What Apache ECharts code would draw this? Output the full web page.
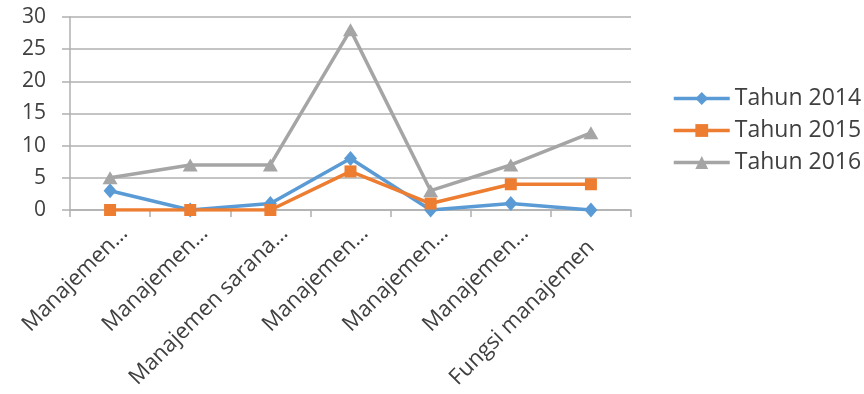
<!DOCTYPE html>
<html>
<head>
<meta charset="utf-8">
<script src="https://cdn.jsdelivr.net/npm/echarts@6/dist/echarts.min.js"></script>
<style>
  html, body { margin: 0; padding: 0; background: #ffffff; }
  #chart { width: 864px; height: 394px; }
</style>
</head>
<body>
<div id="chart"></div>
<script>
// Category labels along the x axis
const categories = [
  'Manajemen…',
  'Manajemen…',
  'Manajemen sarana…',
  'Manajemen…',
  'Manajemen…',
  'Manajemen…',
  'Fungsi manajemen'
];

// Series values per year
const seriesNames = ['Tahun 2014', 'Tahun 2015', 'Tahun 2016'];
const tahun2014 = [3, 0, 1, 8, 0, 1, 0];
const tahun2015 = [0, 0, 0, 6, 1, 4, 4];
const tahun2016 = [5, 7, 7, 28, 3, 7, 12];

// Y axis scale
const yMin = 0;
const yMax = 30;
const yStep = 5;

const FONT = 'Open Sans';
const TEXT = '#404040';
const GRID = '#b0b0b0';

const chart = echarts.init(document.getElementById('chart'), null, { renderer: 'canvas' });

// Shortened names (ending in an ellipsis) run a little past the tick centre
const categoryItems = categories.map(function (c) {
  return c.endsWith('…')
    ? { value: c, textStyle: { padding: [0, -20, 0, 0] } }
    : { value: c };
});

function lineSeries(name, data, color, symbol, size) {
  return {
    name: name,
    type: 'line',
    data: data,
    symbol: symbol,
    symbolSize: size,
    showAllSymbol: true,
    lineStyle: { color: color, width: 3.5 },
    itemStyle: { color: color },
    emphasis: { disabled: true },
    animation: false
  };
}

chart.setOption({
  animation: false,
  textStyle: { fontFamily: FONT },
  grid: { left: 70, right: 233, top: 17, bottom: 184, containLabel: false },
  legend: {
    orient: 'vertical',
    left: 672,
    top: 87,
    padding: 0,
    itemWidth: 56,
    itemHeight: 16,
    itemGap: 9,
    data: seriesNames,
    lineStyle: { width: 3.5 },
    textStyle: { fontFamily: FONT, fontSize: 23, color: TEXT }
  },
  xAxis: {
    type: 'category',
    data: categoryItems,
    boundaryGap: true,
    axisLine: { show: true, lineStyle: { color: GRID, width: 1.5 } },
    axisTick: { show: true, length: 7, alignWithLabel: false, lineStyle: { color: GRID, width: 1.5 } },
    axisLabel: {
      interval: 0,
      rotate: 45,
      margin: 34,
      fontFamily: FONT,
      fontSize: 22,
      color: TEXT
    },
    splitLine: { show: false }
  },
  yAxis: {
    type: 'value',
    min: yMin,
    max: yMax,
    interval: yStep,
    axisLine: { show: true, lineStyle: { color: GRID, width: 1.5 } },
    axisTick: { show: true, inside: false, length: 8, lineStyle: { color: GRID, width: 1.5 } },
    axisLabel: { margin: 24, fontFamily: FONT, fontSize: 21, color: TEXT },
    splitLine: { show: true, lineStyle: { color: GRID, width: 1.5 } }
  },
  series: [
    lineSeries(seriesNames[0], tahun2014, '#5b9bd5', 'diamond', [13, 15]),
    lineSeries(seriesNames[1], tahun2015, '#ed7d31', 'rect', 12),
    lineSeries(seriesNames[2], tahun2016, '#a5a5a5', 'triangle', [15, 13])
  ]
});
</script>
</body>
</html>
